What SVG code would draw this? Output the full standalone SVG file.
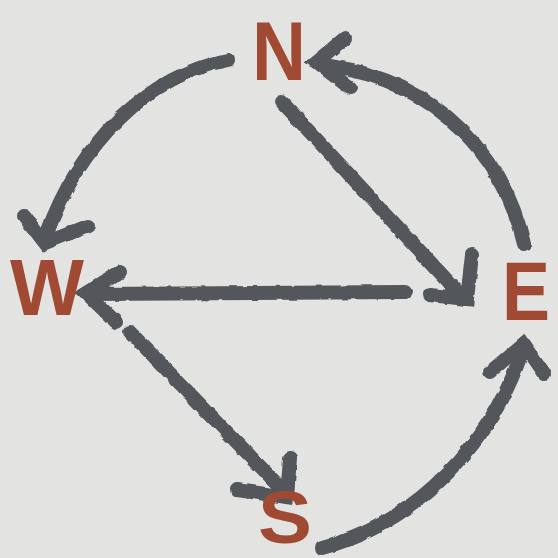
<svg xmlns="http://www.w3.org/2000/svg" width="558" height="558" viewBox="0 0 558 558">
  <defs>
    <filter id="rough" x="-10%" y="-10%" width="120%" height="120%">
      <feTurbulence type="fractalNoise" baseFrequency="0.08" numOctaves="2" seed="3" result="n"/>
      <feDisplacementMap in="SourceGraphic" in2="n" scale="4" xChannelSelector="R" yChannelSelector="G"/>
    </filter>
    <style>
      .bg { fill: #e3e3e1; }
      .arrow { fill: none; stroke: #53575a; stroke-width: 14; stroke-linecap: round; stroke-linejoin: round; }
      .head { fill: none; stroke: #53575a; stroke-width: 14; stroke-linecap: round; stroke-linejoin: miter; }
      .label { fill: #a04a34; font-family: "Liberation Sans", Arial, sans-serif; font-weight: bold; text-anchor: middle; }
    </style>
  </defs>
  <rect class="bg" x="0" y="0" width="558" height="558"/>

  <g id="connectors" filter="url(#rough)">
    <g id="n-to-w">
      <path class="arrow" d="M 228 60 C 150 75, 80 140, 46 236"/>
      <polyline class="head" points="24,216 45,243 88,226"/>
    </g>
    <g id="e-to-n">
      <path class="arrow" d="M 524 244 C 505 160, 440 82, 330 66"/>
      <polyline class="head" points="345,38 316,62 350,88"/>
    </g>
    <g id="n-to-e">
      <path class="arrow" d="M 282 102 L 458 292"/>
      <polyline class="head" points="430,295 467,299 472,255"/>
    </g>
    <g id="e-to-w">
      <path class="arrow" d="M 405 292 L 90 294"/>
      <polyline class="head" points="120,272 86,293 116,322"/>
    </g>
    <g id="w-to-s">
      <path class="arrow" d="M 130 332 L 283 490"/>
      <polyline class="head" points="237,490 287,497 290,458"/>
    </g>
    <g id="s-to-e">
      <path class="arrow" d="M 322 548 C 420 522, 492 440, 522 352"/>
      <polyline class="head" points="490,372 523,344 544,374"/>
    </g>
  </g>

  <g id="node-N">
    <text class="label" x="279" y="80" font-size="84" textLength="54" lengthAdjust="spacingAndGlyphs">N</text>
  </g>
  <g id="node-W">
    <text class="label" x="47" y="315" font-size="80" textLength="74" lengthAdjust="spacingAndGlyphs">W</text>
  </g>
  <g id="node-E">
    <text class="label" x="526" y="320" font-size="84" textLength="48" lengthAdjust="spacingAndGlyphs">E</text>
  </g>
  <g id="node-S">
    <text class="label" x="285" y="543" font-size="74" textLength="54" lengthAdjust="spacingAndGlyphs">S</text>
  </g>
</svg>
